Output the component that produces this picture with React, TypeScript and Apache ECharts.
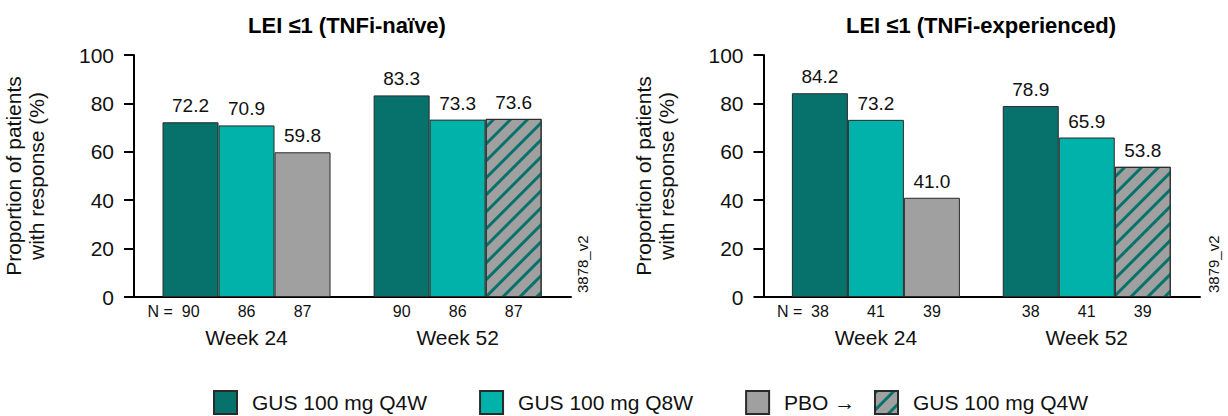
import React, { useEffect, useRef } from "react";
import * as echarts from "echarts";

// ---- data ----
const weeks = ["Week 24", "Week 52"];
const weekPos = [1, 2];

const seriesNames = ["GUS 100 mg Q4W", "GUS 100 mg Q8W", "PBO", "PBO → GUS 100 mg Q4W"];

const panelTitles = ["LEI ≤1 (TNFi-naïve)", "LEI ≤1 (TNFi-experienced)"];
const panelCodes = ["3878_v2", "3879_v2"];

// TNFi-naïve
const naiveQ4W = [72.2, 83.3];
const naiveQ8W = [70.9, 73.3];
const naivePbo = [59.8, 73.6]; // week 24: PBO, week 52: PBO → GUS Q4W
const naiveNQ4W = [90, 90];
const naiveNQ8W = [86, 86];
const naiveNPbo = [87, 87];

// TNFi-experienced
const expQ4W = [84.2, 78.9];
const expQ8W = [73.2, 65.9];
const expPbo = [41.0, 53.8];
const expNQ4W = [38, 38];
const expNQ8W = [41, 41];
const expNPbo = [39, 39];

const yTicks = [0, 20, 40, 60, 80, 100];

// ---- styling ----
const FONT = '"Liberation Sans", Arial, Helvetica, sans-serif';
const DARK = "#07726B";
const TEAL = "#00B2A9";
const GRAY = "#A0A0A0";
const EDGE = "#2a2a2a";
const BAR_W = 56;
const X_MIN = 0.467;
const X_MAX = 2.537;

const hatch = {
  symbol: "rect",
  symbolSize: 1,
  color: DARK,
  dashArrayX: [1, 0],
  dashArrayY: [2.2, 8.6],
  rotation: -Math.PI / 4,
};

const panels = [
  { q4w: naiveQ4W, q8w: naiveQ8W, pbo: naivePbo, n: [naiveNQ4W, naiveNQ8W, naiveNPbo], left: 134, width: 437, titleX: 347, codeX: 582.5 },
  { q4w: expQ4W, q8w: expQ8W, pbo: expPbo, n: [expNQ4W, expNQ8W, expNPbo], left: 763.5, width: 436.5, titleX: 981, codeX: 1213 },
];

function buildPanel(p: number) {
  const d = panels[p];
  const xMain = p * 2;
  const xHidden = p * 2 + 1;
  const valueLabel = {
    show: true,
    position: "top",
    distance: 7,
    fontSize: 19,
    color: "#111",
    fontFamily: FONT,
    formatter: (pr: any) => Number(pr.value[1]).toFixed(1),
  };
  const barBase = {
    type: "bar",
    xAxisIndex: xMain,
    yAxisIndex: p,
    barWidth: BAR_W,
    barGap: "0%",
    label: valueLabel,
  };
  const series: any[] = [
    {
      ...barBase,
      name: seriesNames[0],
      data: weekPos.map((x, i) => [x, d.q4w[i]]),
      itemStyle: { color: DARK, borderColor: EDGE, borderWidth: 1 },
    },
    {
      ...barBase,
      name: seriesNames[1],
      data: weekPos.map((x, i) => [x, d.q8w[i]]),
      itemStyle: { color: TEAL, borderColor: EDGE, borderWidth: 1 },
    },
    {
      ...barBase,
      name: seriesNames[2],
      stack: "pbo" + p,
      data: weekPos.map((x, i) =>
        i === 0
          ? [x, d.pbo[i]]
          : { value: [x, d.pbo[i]], itemStyle: { color: GRAY, decal: hatch } }
      ),
      itemStyle: { color: GRAY, borderColor: EDGE, borderWidth: 1 },
    },
    {
      ...barBase,
      name: seriesNames[3],
      stack: "pbo" + p,
      data: [],
      itemStyle: { color: GRAY, borderColor: EDGE, borderWidth: 1, decal: hatch },
    },
  ];
  // sample sizes under each bar
  d.n.forEach((arr, k) => {
    series.push({
      type: "bar",
      name: "n" + p + k,
      xAxisIndex: xHidden,
      yAxisIndex: p,
      barWidth: BAR_W,
      barGap: "0%",
      silent: true,
      itemStyle: { color: "transparent" },
      data: weekPos.map((x, i) => ({
        value: [x, 0, arr[i]],
        label:
          k === 0 && i === 0
            ? { formatter: () => "N =  " + arr[i], offset: [-17, 0] }
            : undefined,
      })),
      label: {
        show: true,
        position: "bottom",
        distance: 6,
        fontSize: 16,
        color: "#111",
        fontFamily: FONT,
        formatter: (pr: any) => String(pr.value[2]),
      },
    });
  });
  return series;
}

export default function App() {
  const ref = useRef<HTMLDivElement>(null);
  useEffect(() => {
    document.body.style.margin = "0";
    if (!ref.current) return;
    const chart = echarts.init(ref.current, null, { renderer: "svg" });

    const grids = panels.map((d) => ({ left: d.left, top: 55, width: d.width, height: 242 }));
    const xAxes: any[] = [];
    const yAxes: any[] = [];
    panels.forEach((_, p) => {
      xAxes.push({
        type: "value",
        gridIndex: p,
        min: X_MIN,
        max: X_MAX,
        axisLine: { show: true, onZero: false, lineStyle: { color: "#000", width: 2 } },
        axisTick: { show: false },
        splitLine: { show: false },
        axisLabel: {
          customValues: weekPos,
          formatter: (v: number) => weeks[Math.round(v) - 1],
          fontSize: 21,
          margin: 30,
          color: "#111",
          fontFamily: FONT,
        },
      });
      xAxes.push({ type: "value", gridIndex: p, min: X_MIN, max: X_MAX, show: false });
      yAxes.push({
        type: "value",
        gridIndex: p,
        min: yTicks[0],
        max: yTicks[yTicks.length - 1],
        interval: 20,
        name: "Proportion of patients\nwith response (%)",
        nameLocation: "middle",
        nameGap: 86,
        nameRotate: 90,
        nameTextStyle: { fontSize: 21, lineHeight: 23, color: "#111", fontFamily: FONT },
        axisLine: { show: true, lineStyle: { color: "#000", width: 2 } },
        axisTick: { show: true, length: 10, lineStyle: { color: "#000", width: 2 } },
        splitLine: { show: false },
        axisLabel: { fontSize: 21, margin: 20, color: "#111", fontFamily: FONT },
      });
    });

    const series = [...buildPanel(0), ...buildPanel(1)];

    const legendText = {
      fontSize: 21,
      color: "#111",
      fontFamily: FONT,
      padding: [0, 0, 0, 10],
    };
    const legendFormatter = (name: string) =>
      name === "PBO" ? "PBO →" : name === seriesNames[3] ? "GUS 100 mg Q4W" : name;

    const graphics: any[] = [];
    panels.forEach((d, p) => {
      graphics.push({
        type: "text",
        x: d.titleX,
        y: 25,
        style: {
          text: panelTitles[p],
          align: "center",
          verticalAlign: "middle",
          fontSize: 22,
          fontWeight: "bold",
          fill: "#000",
          fontFamily: FONT,
        },
      });
      graphics.push({
        type: "text",
        x: d.codeX,
        y: 293,
        rotation: Math.PI / 2,
        style: {
          text: panelCodes[p],
          align: "left",
          verticalAlign: "middle",
          fontSize: 15,
          fill: "#111",
          fontFamily: FONT,
        },
      });
    });

    chart.setOption({
      animation: false,
      textStyle: { fontFamily: FONT },
      grid: grids,
      xAxis: xAxes,
      yAxis: yAxes,
      series,
      legend: [
        {
          data: [seriesNames[0], seriesNames[1], seriesNames[2]],
          left: 213,
          top: 390,
          padding: 0,
          icon: "rect",
          itemWidth: 23,
          itemHeight: 23,
          itemGap: 52,
          selectedMode: false,
          textStyle: legendText,
          formatter: legendFormatter,
        },
        {
          data: [seriesNames[3]],
          left: 874,
          top: 390,
          padding: 0,
          icon: "rect",
          itemWidth: 23,
          itemHeight: 23,
          selectedMode: false,
          textStyle: legendText,
          formatter: legendFormatter,
        },
      ],
      graphic: graphics,
    });
    return () => chart.dispose();
  }, []);
  return <div ref={ref} style={{ width: 1228, height: 416 }} />;
}
